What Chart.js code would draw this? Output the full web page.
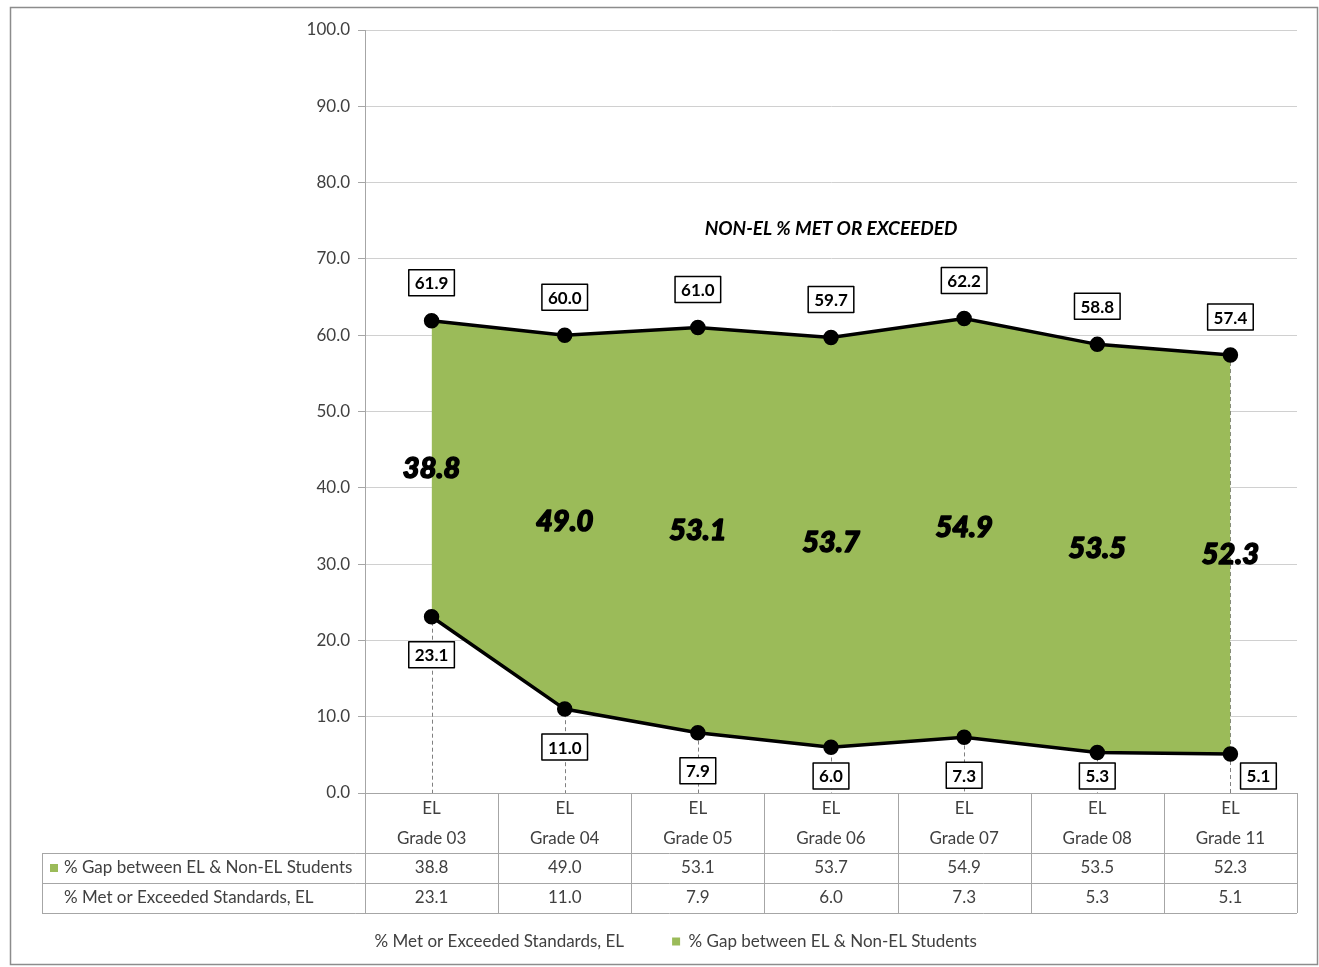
<!DOCTYPE html>
<html>
<head>
<meta charset="utf-8">
<title>EL gap chart</title>
<script src="https://cdn.jsdelivr.net/npm/chart.js@4.4.0/dist/chart.umd.min.js"></script>
<style>
  html, body { margin: 0; padding: 0; background: #fff; }
</style>
</head>
<body>
<canvas id="myChart" width="1319" height="967"></canvas>
<script>
"use strict";

let grades = ['Grade 03', 'Grade 04', 'Grade 05', 'Grade 06', 'Grade 07', 'Grade 08', 'Grade 11'];
let elMet = [23.1, 11.0, 7.9, 6.0, 7.3, 5.3, 5.1];
let gapPct = [38.8, 49.0, 53.1, 53.7, 54.9, 53.5, 52.3];
let elLabel = '% Met or Exceeded Standards, EL';
let gapLabel = '% Gap between EL & Non-EL Students';
let titleText = 'NON-EL % MET OR EXCEEDED';

let green = '#9bbb59';
let textGrey = '#404040';
let fontName = "Lato, 'Open Sans', 'Liberation Sans', sans-serif";

let framePlugin = {
  id: 'frame',
  beforeDraw(chart) {
    let ctx = chart.ctx;
    ctx.save();
    ctx.fillStyle = '#fff';
    ctx.fillRect(0, 0, chart.width, chart.height);
    ctx.strokeStyle = '#8c8c8c';
    ctx.lineWidth = 1.5;
    ctx.strokeRect(10.5, 7.5, 1307, 957);
    ctx.restore();
  }
};

// dashed drop lines from the top series down to the axis
let dropLinePlugin = {
  id: 'dropLines',
  beforeDatasetsDraw(chart) {
    let ctx = chart.ctx;
    let meta = chart.getDatasetMeta(1);
    ctx.save();
    ctx.strokeStyle = '#808080';
    ctx.lineWidth = 1;
    ctx.setLineDash([4, 3]);
    meta.data.forEach(function (pt) {
      ctx.beginPath();
      ctx.moveTo(Math.round(pt.x) + 0.5, pt.y);
      ctx.lineTo(Math.round(pt.x) + 0.5, chart.chartArea.bottom);
      ctx.stroke();
    });
    ctx.restore();
  }
};

function boxLabel(ctx, text, cx, cy) {
  ctx.font = 'bold 17px ' + fontName;
  let w = ctx.measureText(text).width + 12;
  let h = 26;
  ctx.fillStyle = '#fff';
  ctx.fillRect(cx - w / 2, cy - h / 2, w, h);
  ctx.strokeStyle = '#000';
  ctx.lineWidth = 1.5;
  ctx.strokeRect(cx - w / 2, cy - h / 2, w, h);
  ctx.fillStyle = '#000';
  ctx.textAlign = 'center';
  ctx.textBaseline = 'middle';
  ctx.fillText(text, cx, cy + 1);
}

let labelPlugin = {
  id: 'valueLabels',
  afterDatasetsDraw(chart) {
    let ctx = chart.ctx;
    let y = chart.scales.y;
    let area = chart.chartArea;
    let lowMeta = chart.getDatasetMeta(0);
    let topMeta = chart.getDatasetMeta(1);
    ctx.save();

    // big gap numbers in the middle of the green band
    ctx.font = 'italic 900 29px ' + fontName;
    ctx.textAlign = 'center';
    ctx.textBaseline = 'middle';
    ctx.fillStyle = '#000';
    ctx.strokeStyle = '#000';
    ctx.lineWidth = 1.5;
    ctx.lineJoin = 'round';
    for (let i = 0; i < gapPct.length; i++) {
      let mid = y.getPixelForValue(elMet[i] + gapPct[i] / 2);
      ctx.fillText(gapPct[i].toFixed(1), topMeta.data[i].x, mid);
      ctx.strokeText(gapPct[i].toFixed(1), topMeta.data[i].x, mid);
    }

    for (let i = 0; i < gapPct.length; i++) {
      let total = elMet[i] + gapPct[i];
      let pt = topMeta.data[i];
      boxLabel(ctx, total.toFixed(1), pt.x, pt.y - 38);
    }
    for (let i = 0; i < elMet.length; i++) {
      let pt = lowMeta.data[i];
      let cy = pt.y + 38;
      let cx = pt.x;
      let lim = area.bottom - 17;
      if (cy > lim) {
        cy = lim;
        if (i === elMet.length - 1) cx += 28;
      }
      boxLabel(ctx, elMet[i].toFixed(1), cx, cy);
    }

    ctx.font = 'italic bold 19px ' + fontName;
    ctx.fillStyle = '#000';
    ctx.textAlign = 'center';
    ctx.textBaseline = 'middle';
    ctx.fillText(titleText, (area.left + area.right) / 2, y.getPixelForValue(74));
    ctx.restore();
  }
};

// data table under the x axis
let tablePlugin = {
  id: 'dataTable',
  afterDraw(chart) {
    let ctx = chart.ctx;
    let x = chart.scales.x;
    let area = chart.chartArea;
    let top = area.bottom;
    let headBottom = top + 60;
    let rowH = 30;
    let bottom = headBottom + rowH * 2;
    let left = 42;
    let right = area.right;
    let colW = (area.right - area.left) / grades.length;
    ctx.save();
    ctx.strokeStyle = '#a6a6a6';
    ctx.lineWidth = 1;
    ctx.beginPath();
    ctx.moveTo(area.left, top + 0.5); ctx.lineTo(right, top + 0.5);
    ctx.moveTo(left, headBottom + 0.5); ctx.lineTo(right, headBottom + 0.5);
    ctx.moveTo(left, headBottom + rowH + 0.5); ctx.lineTo(right, headBottom + rowH + 0.5);
    ctx.moveTo(left, bottom + 0.5); ctx.lineTo(right, bottom + 0.5);
    ctx.moveTo(left + 0.5, headBottom); ctx.lineTo(left + 0.5, bottom);
    for (let i = 0; i <= grades.length; i++) {
      let cx = Math.round(area.left + colW * i) + 0.5;
      ctx.moveTo(cx, top); ctx.lineTo(cx, bottom);
    }
    ctx.stroke();

    ctx.font = '17px ' + fontName;
    ctx.fillStyle = textGrey;
    ctx.textBaseline = 'middle';
    ctx.textAlign = 'left';
    ctx.fillText(gapLabel, 64, headBottom + rowH / 2);
    ctx.fillText(elLabel, 64, headBottom + rowH * 1.5);
    ctx.fillStyle = green;
    ctx.fillRect(50, headBottom + rowH / 2 - 4, 8, 8);

    ctx.fillStyle = textGrey;
    ctx.textAlign = 'center';
    for (let i = 0; i < grades.length; i++) {
      let cx = x.getPixelForValue(i);
      ctx.fillText(gapPct[i].toFixed(1), cx, headBottom + rowH / 2);
      ctx.fillText(elMet[i].toFixed(1), cx, headBottom + rowH * 1.5);
    }
    ctx.restore();
  }
};

let chartObject = {
  type: 'line',
  data: {
    labels: grades.map(function (g) { return ['EL', g]; }),
    datasets: [{
      label: elLabel,
      data: elMet,
      borderColor: '#000',
      borderWidth: 3.5,
      pointRadius: 6,
      pointBackgroundColor: '#000',
      pointBorderColor: '#000',
      backgroundColor: 'rgba(0,0,0,0)',
      fill: false,
      tension: 0
    },
    {
      label: gapLabel,
      data: gapPct,
      borderColor: '#000',
      borderWidth: 3.5,
      pointRadius: 6,
      pointBackgroundColor: '#000',
      pointBorderColor: '#000',
      backgroundColor: green,
      fill: '-1',
      tension: 0
    }]
  },
  options: {
    responsive: false,
    animation: false,
    layout: {
      padding: { left: 38, right: 22, top: 30, bottom: 7 }
    },
    scales: {
      x: {
        type: 'category',
        offset: true,
        grid: { display: false },
        border: { display: false },
        ticks: {
          color: textGrey,
          font: { family: fontName, size: 17, lineHeight: 1.75 },
          padding: -7,
          autoSkip: false,
          maxRotation: 0
        },
        // table rows reach under the legend box; the legend only draws its items
        afterFit(scale) { scale.height = 92; }
      },
      y: {
        stacked: true,
        min: 0,
        max: 100,
        ticks: {
          stepSize: 10,
          color: textGrey,
          font: { family: fontName, size: 17 },
          padding: 8,
          callback: function (v) { return v.toFixed(1); }
        },
        grid: { color: '#d0d0d0', tickLength: 7, tickColor: '#a6a6a6' },
        border: { color: '#a6a6a6' },
        afterFit(scale) { scale.width = 327; }
      }
    },
    plugins: {
      tooltip: { enabled: false },
      legend: {
        position: 'bottom',
        labels: {
          color: textGrey,
          font: { family: fontName, size: 17 },
          boxWidth: 8,
          boxHeight: 8,
          padding: 48,
          generateLabels(chart) {
            let list = Chart.defaults.plugins.legend.labels.generateLabels(chart);
            list.forEach(function (item) {
              item.lineWidth = 0;
              if (item.datasetIndex === 0) {
                item.fillStyle = 'rgba(0,0,0,0)';
                item.strokeStyle = 'rgba(0,0,0,0)';
              } else {
                item.fillStyle = green;
                item.strokeStyle = green;
              }
            });
            return list;
          }
        }
      }
    }
  },
  plugins: [framePlugin, dropLinePlugin, labelPlugin, tablePlugin]
};

let ctx = document.getElementById('myChart').getContext('2d');
let myChart = new Chart(ctx, chartObject);
</script>
</body>
</html>
